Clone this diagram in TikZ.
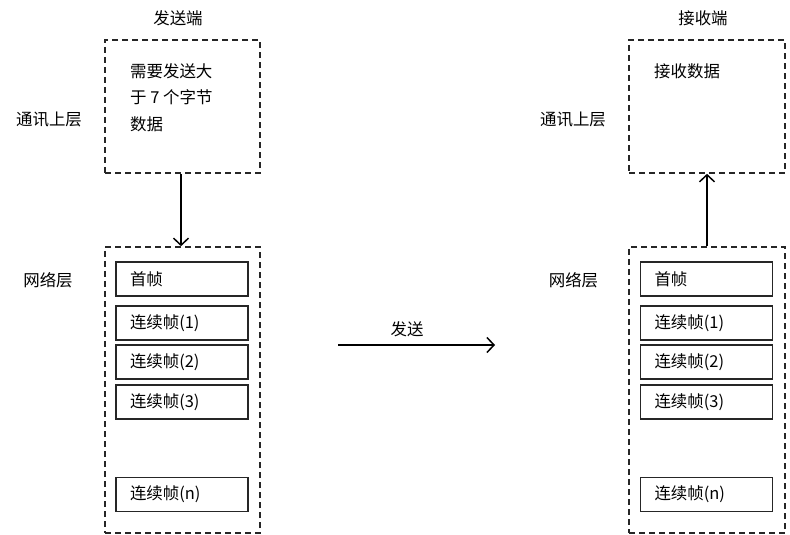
\documentclass[tikz,border=0pt]{standalone}
\usepackage{fontspec}
\newfontfamily\cjk{Noto Sans CJK SC}
\usetikzlibrary{arrows.meta,positioning}
\tikzset{
    layerbox/.style={
        draw=black!85,
        dash pattern=on 6bp off 4bp,
        line width=1.6pt,
        inner sep=0pt
    },
    framebox/.style={
        draw=black!85,
        line width=1.6pt,
        minimum height=34bp,
        text width=104bp,
        inner xsep=14bp,
        inner ysep=0pt,
        align=left,
        font=\cjk\fontsize{16.5}{19}\selectfont
    },
    layerlabel/.style={
        font=\cjk\fontsize{16.5}{19}\selectfont
    },
    boxtext/.style={
        align=left,
        inner sep=0pt,
        font=\cjk\fontsize{16.5}{27}\selectfont
    },
    layerarrow/.style={
        -{Straight Barb[length=7bp,width=15bp]},
        draw=black,
        line width=1.5pt
    }
}
\begin{document}
\begin{tikzpicture}[x=1bp,y=-1bp]
    \useasboundingbox[fill=white] (0,0) rectangle (790,535);

    % sender
    \node[layerlabel] (sendtitle) at (178,18) {发送端};
    \node[layerbox,minimum width=155bp,minimum height=133bp] (sendupper) at (182.5,106.5) {};
    \node[layerbox,minimum width=155bp,minimum height=286bp] (sendnet) at (182.5,390) {};
    \node[boxtext,anchor=north west] (senddata) at (130,63)
        {需要发送大\\于 7 个字节\\数据};
    \node[layerlabel] (sendupperlabel) at (49,120) {通讯上层};
    \node[layerlabel] (sendnetlabel) at (48,280) {网络层};
    \node[framebox] (sendfirst) at (182,279) {首帧};
    \node[framebox] (sendcf1) at (182,323) {连续帧(1)};
    \node[framebox] (sendcf2) at (182,362) {连续帧(2)};
    \node[framebox] (sendcf3) at (182,402) {连续帧(3)};
    \node[framebox] (sendcfn) at (182,494.5) {连续帧(n)};
    \draw[layerarrow] ([xshift=-1.5bp]sendupper.south) -- ([xshift=-1.5bp]sendnet.north);

    % receiver
    \node[layerlabel] (recvtitle) at (703,18) {接收端};
    \node[layerbox,minimum width=156bp,minimum height=133bp] (recvupper) at (707,106.5) {};
    \node[layerbox,minimum width=156bp,minimum height=286bp] (recvnet) at (707,390) {};
    \node[boxtext,anchor=north west] (recvdata) at (654,63) {接收数据};
    \node[layerlabel] (recvupperlabel) at (573,120) {通讯上层};
    \node[layerlabel] (recvnetlabel) at (573.5,280) {网络层};
    \node[framebox] (recvfirst) at (706.5,279) {首帧};
    \node[framebox] (recvcf1) at (706.5,323) {连续帧(1)};
    \node[framebox] (recvcf2) at (706.5,362) {连续帧(2)};
    \node[framebox] (recvcf3) at (706.5,402) {连续帧(3)};
    \node[framebox] (recvcfn) at (706.5,494.5) {连续帧(n)};
    \draw[layerarrow] (recvnet.north) -- (recvupper.south);

    % transfer
    \coordinate (sendfrom) at (338,345);
    \coordinate (sendto) at (495,345);
    \draw[layerarrow] (sendfrom) -- node[layerlabel,above=4bp,pos=0.44] (sendlabel) {发送} (sendto);
\end{tikzpicture}
\end{document}
